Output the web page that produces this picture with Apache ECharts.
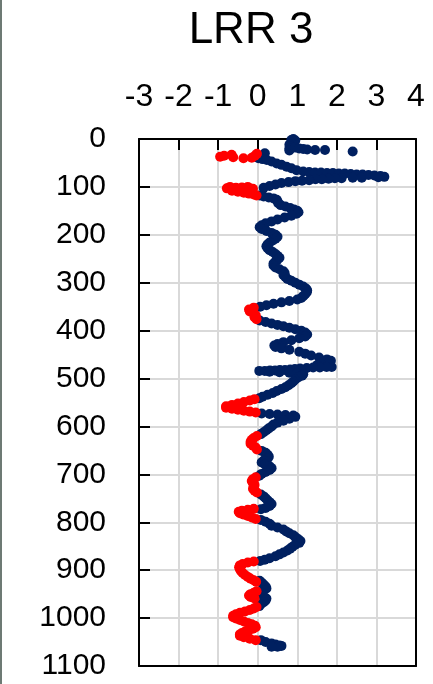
<!DOCTYPE html>
<html>
<head>
<meta charset="utf-8">
<script src="https://cdn.jsdelivr.net/npm/echarts@6/dist/echarts.min.js"></script>
<style>
html,body{margin:0;padding:0;background:#fff;}
#chart{width:433px;height:684px;}
</style>
</head>
<body>
<div id="chart"></div>
<script>
// Title
const chartTitle = "LRR 3";
// Axis ticks
const xTicks = [-3, -2, -1, 0, 1, 2, 3, 4];
const yTicks = [0, 100, 200, 300, 400, 500, 600, 700, 800, 900, 1000, 1100];

// Sequence of readings along the trace: depth (vertical axis) and LRR value (horizontal axis)
const depth = [
  0,3,2,5,8,12,16,20,24,18,20,21,22,23,23,26,
  30,
  31,35,39,40,38,33,35,37,
  40,42,44,47,51,54,58,61,65,68,
  69,70,70,71,71,72,72,73,74,74,75,76,77,79,80,
  81,81,82,82,83,84,84,86,87,88,90,92,95,98,102,
  100,103,102,101,100,104,108,110,112,114,116,118,
  118,120,122,124,127,130,134,138,141,144,147,150,153,156,160,164,168,172,176,180,184,188,192,196,200,204,208,212,216,220,224,228,232,236,240,244,248,252,256,260,264,268,272,276,280,284,288,292,296,300,304,308,312,316,320,324,328,332,335,338,341,344,347,350,
  352,356,360,364,368,372,376,
  379,382,385,388,391,394,397,400,404,408,412,416,420,424,428,431,434,437,440,444,448,452,456,460,463,466,469,472,
  476,476,477,477,478,479,480,481,482,482,483,483,484,484,
  486,487,488,489,491,494,498,502,506,510,514,518,522,526,530,534,538,541,
  543,546,549,552,555,558,561,563,565,567,569,571,
  573,574,575,576,577,580,584,588,592,596,600,604,608,612,616,
  620,624,628,632,636,640,644,648,
  651,655,659,663,667,671,675,679,683,687,691,695,699,703,
  706,710,714,718,722,726,730,734,738,
  742,746,750,754,758,762,766,770,773,
  772,774,776,778,781,784,787,790,793,
  795,799,803,807,811,815,819,823,827,831,835,839,843,847,851,855,859,863,867,871,875,878,881,
  882,884,887,890,894,898,902,906,910,914,918,921,924,
  922,926,930,934,938,942,946,
  944,947,950,953,956,959,
  955,959,963,967,971,975,
  977,980,983,986,989,992,995,998,1001,1004,1007,1010,1013,1016,1019,1022,1025,1028,1031,1034,1037,1040,1043,1046,
  1046,1050,1053,1055,1057,1058,1060,1060
];
const lrr = [
  0.9,0.95,0.85,0.9,0.85,0.8,0.82,0.8,0.8,0.95,1.05,1.15,1.25,1.45,1.7,2.4,
  0.18,
  -0.02,-0.07,-0.15,-0.36,-0.62,-0.66,-0.85,-0.95,
  0.02,0.12,0.23,0.35,0.48,0.6,0.73,0.85,0.98,1.15,
  1.3,1.45,1.6,1.75,1.9,2.05,2.2,2.35,2.5,2.65,2.8,2.95,3.1,3.2,3.05,
  2.63,2.4,2.12,1.95,1.79,1.62,1.46,1.3,1.12,0.95,0.78,0.6,0.45,0.3,0.15,
  -0.7,-0.78,-0.55,-0.4,-0.25,-0.12,-0.65,-0.5,-0.35,-0.22,-0.1,-0.03,
  0.05,0.15,0.28,0.4,0.48,0.5,0.52,0.58,0.7,0.82,0.92,1.0,1.03,0.98,0.85,0.68,0.5,0.35,0.2,0.1,0.05,0.1,0.22,0.35,0.45,0.5,0.45,0.38,0.3,0.25,0.22,0.25,0.3,0.38,0.45,0.5,0.55,0.5,0.45,0.4,0.4,0.45,0.55,0.65,0.68,0.65,0.7,0.75,0.85,0.95,1.05,1.15,1.22,1.25,1.24,1.2,1.15,1.1,1.0,0.8,0.6,0.4,0.22,0.06,
  -0.1,-0.22,-0.2,-0.1,-0.05,-0.08,-0.03,
  0.05,0.2,0.35,0.5,0.65,0.8,0.95,1.1,1.2,1.25,1.2,1.05,0.85,0.65,0.5,0.42,0.45,0.6,0.8,1.05,1.2,1.35,1.55,1.75,1.85,1.8,1.6,1.5,
  1.87,1.74,1.57,1.4,1.24,1.07,0.94,0.82,0.69,0.56,0.44,0.31,0.18,0.04,
  0.3,0.55,0.8,1.0,1.15,1.12,1.02,0.95,0.9,0.85,0.78,0.7,0.6,0.48,0.38,0.25,0.12,0.04,
  -0.08,-0.2,-0.35,-0.5,-0.65,-0.8,-0.8,-0.65,-0.5,-0.35,-0.2,-0.05,
  0.1,0.3,0.5,0.7,0.9,0.95,0.8,0.65,0.5,0.4,0.35,0.28,0.22,0.15,0.08,
  -0.02,-0.1,-0.15,-0.18,-0.18,-0.12,-0.05,-0.02,
  0.1,0.2,0.25,0.28,0.25,0.15,0.1,0.18,0.3,0.35,0.3,0.2,0.1,0.04,
  -0.05,-0.12,-0.15,-0.12,-0.08,-0.1,-0.12,-0.08,-0.02,
  0.08,0.15,0.2,0.25,0.3,0.35,0.3,0.2,0.08,
  -0.1,-0.25,-0.4,-0.48,-0.45,-0.35,-0.25,-0.15,-0.05,
  0.08,0.2,0.3,0.35,0.5,0.65,0.72,0.8,0.9,0.95,1.02,1.08,1.05,0.95,0.88,0.82,0.75,0.65,0.55,0.45,0.3,0.18,0.06,
  -0.1,-0.25,-0.38,-0.45,-0.47,-0.45,-0.42,-0.38,-0.32,-0.25,-0.18,-0.1,-0.04,
  0.05,0.1,0.15,0.2,0.22,0.15,0.08,
  -0.03,-0.1,-0.18,-0.22,-0.18,-0.08,
  0.15,0.22,0.2,0.15,0.08,0.04,
  -0.03,-0.1,-0.2,-0.32,-0.45,-0.55,-0.62,-0.62,-0.55,-0.45,-0.35,-0.25,-0.15,-0.07,-0.05,-0.12,-0.22,-0.32,-0.4,-0.45,-0.45,-0.35,-0.2,-0.05,
  0.08,0.2,0.35,0.45,0.55,0.6,0.5,0.35
];

const navyPts = [], redPts = [];
for (let i = 0; i < depth.length; i++) {
  if (lrr[i] < 0) redPts.push([lrr[i], depth[i]]);
  else navyPts.push([lrr[i], depth[i]]);
}

const chart = echarts.init(document.getElementById('chart'), null, {renderer: 'canvas'});
const FONT = '"Liberation Sans", Arial, sans-serif';
const xMin = xTicks[0], xMax = xTicks[xTicks.length - 1];
const yMin = yTicks[0], yMax = yTicks[yTicks.length - 1];
const frameLine = {show: true, onZero: false, lineStyle: {color: '#000', width: 2}};
chart.setOption({
  animation: false,
  backgroundColor: '#ffffff',
  title: {
    text: chartTitle,
    left: 246,
    top: 4,
    textAlign: 'center',
    textStyle: {fontFamily: FONT, fontSize: 44, fontWeight: 'normal', color: '#000'}
  },
  grid: {left: 139, right: 17, top: 139, bottom: 18},
  xAxis: [{
    type: 'value',
    position: 'top',
    min: xMin, max: xMax, interval: 1,
    axisLine: frameLine,
    axisTick: {show: true, inside: true, length: 11, lineStyle: {color: '#000', width: 2}},
    axisLabel: {fontFamily: FONT, fontSize: 32, color: '#000', margin: 26,
      formatter: v => String(v)},
    splitLine: {show: true, lineStyle: {color: '#d9d9d9', width: 2}}
  }, {
    type: 'value',
    position: 'bottom',
    min: xMin, max: xMax, interval: 1,
    axisLine: frameLine,
    axisTick: {show: false}, axisLabel: {show: false}, splitLine: {show: false}
  }],
  yAxis: [{
    type: 'value',
    inverse: true,
    min: yMin, max: yMax, interval: 100,
    axisLine: frameLine,
    axisTick: {show: true, inside: true, length: 11, lineStyle: {color: '#000', width: 2}},
    axisLabel: {fontFamily: FONT, fontSize: 30, color: '#000', margin: 33,
      formatter: v => String(v)},
    splitLine: {show: true, lineStyle: {color: '#d9d9d9', width: 2}}
  }, {
    type: 'value',
    inverse: true,
    position: 'right',
    min: yMin, max: yMax, interval: 100,
    axisLine: frameLine,
    axisTick: {show: false}, axisLabel: {show: false}, splitLine: {show: false}
  }],
  graphic: [{
    type: 'rect', left: 0, top: 0, silent: true,
    shape: {width: 2, height: 684},
    style: {fill: '#6d7a74'}
  }],
  series: [
    {type: 'scatter', name: 'pos', data: navyPts, symbolSize: 10,
     xAxisIndex: 0, yAxisIndex: 0,
     itemStyle: {color: '#002060', opacity: 1}},
    {type: 'scatter', name: 'neg', data: redPts, symbolSize: 10,
     xAxisIndex: 0, yAxisIndex: 0,
     itemStyle: {color: '#ff0000', opacity: 1}}
  ]
});
</script>
</body>
</html>
